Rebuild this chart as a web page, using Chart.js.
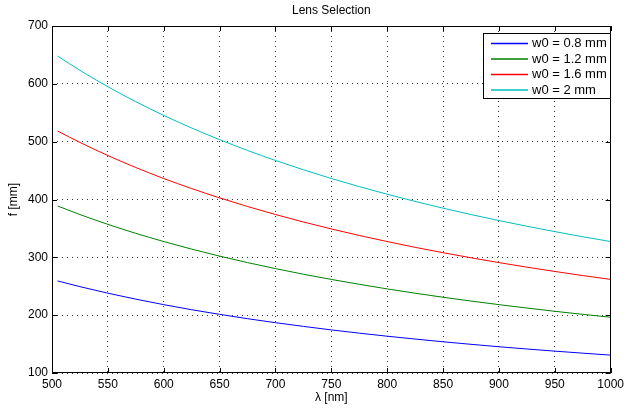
<!DOCTYPE html>
<html><head><meta charset="utf-8">
<script src="https://cdn.jsdelivr.net/npm/chart.js@4.4.1/dist/chart.umd.min.js"></script>
<style>html,body{margin:0;padding:0;background:#fff}#wrap{width:628px;height:408px}</style>
</head><body><div id="wrap"><canvas id="c" width="628" height="408"></canvas></div>
<script>
const lambda = [505,525,550,575,600,625,650,675,700,725,750,775,800,825,850,875,900,925,950,975,1000];
const w08 = [259.2,249.3,238.0,227.7,218.2,209.4,201.4,193.9,187.0,180.6,174.5,168.9,163.6,158.7,154.0,149.6,145.4,141.5,137.8,134.3,130.9];
const w12 = [388.8,374.0,357.0,341.5,327.3,314.2,302.1,290.9,280.5,270.8,261.8,253.4,245.4,238.0,231.0,224.4,218.2,212.3,206.7,201.4,196.4];
const w16 = [518.4,498.7,476.0,455.3,436.3,418.9,402.8,387.9,374.0,361.1,349.1,337.8,327.3,317.3,308.0,299.2,290.9,283.0,275.6,268.5,261.8];
const w20 = [648.0,623.3,595.0,569.1,545.4,523.6,503.5,484.8,467.5,451.4,436.3,422.3,409.1,396.7,385.0,374.0,363.6,353.8,344.5,335.6,327.3];
const seriesLabels = ['w0 = 0.8 mm','w0 = 1.2 mm','w0 = 1.6 mm','w0 = 2 mm'];
const xTicks = [500,550,600,650,700,750,800,850,900,950,1000];
const yTicks = [100,200,300,400,500,600,700];
const titleText = 'Lens Selection';
const xTitle = 'λ [nm]';
const yTitle = 'f [mm]';

const colors = ['#0000ff','#008000','#ff0000','#00bfbf'];
const FONT = '"Liberation Sans", Arial, Helvetica, sans-serif';
const toPts = arr => arr.map((v,i)=>({x:lambda[i], y:v}));

const framePlugin = {
  id:'frame',
  afterDraw(chart){
    const ctx = chart.ctx, a = chart.chartArea;
    const xs = chart.scales.x, ys = chart.scales.y;
    ctx.save();
    ctx.setLineDash([]);
    ctx.strokeStyle = '#000'; ctx.lineWidth = 1;
    ctx.strokeRect(Math.round(a.left)+0.5, Math.round(a.top)+0.5, Math.round(a.right-a.left)-1, Math.round(a.bottom-a.top)-1);
    const L = 5;
    ctx.beginPath();
    xTicks.forEach(t=>{
      const px = Math.round(xs.getPixelForValue(t))+0.5;
      ctx.moveTo(px, a.bottom); ctx.lineTo(px, a.bottom-L);
      ctx.moveTo(px, a.top); ctx.lineTo(px, a.top+L);
    });
    yTicks.forEach(t=>{
      const py = Math.round(ys.getPixelForValue(t))+0.5;
      ctx.moveTo(a.left, py); ctx.lineTo(a.left+L, py);
      ctx.moveTo(a.right, py); ctx.lineTo(a.right-L, py);
    });
    ctx.stroke();
    // title
    ctx.fillStyle = '#000';
    ctx.font = '12px ' + FONT;
    ctx.textAlign = 'center'; ctx.textBaseline = 'middle';
    ctx.fillText(titleText, (a.left+a.right)/2, 11);
    // legend
    const bx = 483.5, by = 33.5, bw = 127, bh = 65;
    ctx.fillStyle = '#fff';
    ctx.fillRect(bx, by, bw, bh);
    ctx.strokeStyle = '#000';
    ctx.strokeRect(bx, by, bw, bh);
    const rows = [43.5, 59, 74.5, 90];
    seriesLabels.forEach((lab,i)=>{
      ctx.setLineDash([]);
      ctx.strokeStyle = colors[i]; ctx.lineWidth = 1.5;
      ctx.beginPath();
      ctx.moveTo(491, rows[i]); ctx.lineTo(528, rows[i]);
      ctx.stroke();
      ctx.fillStyle = '#000';
      ctx.textAlign = 'left'; ctx.textBaseline = 'middle';
      ctx.font = '13px ' + FONT;
      ctx.fillText(lab, 532, rows[i]);
    });
    ctx.restore();
  }
};

new Chart(document.getElementById('c'), {
  type:'line',
  data:{
    datasets:[
      {label:seriesLabels[0], data:toPts(w08), borderColor:colors[0]},
      {label:seriesLabels[1], data:toPts(w12), borderColor:colors[1]},
      {label:seriesLabels[2], data:toPts(w16), borderColor:colors[2]},
      {label:seriesLabels[3], data:toPts(w20), borderColor:colors[3]}
    ].map(d=>Object.assign(d,{borderWidth:1, pointRadius:0, fill:false, cubicInterpolationMode:'monotone'}))
  },
  options:{
    responsive:false, animation:false,
    layout:{padding:{left:0,right:12,top:26,bottom:0}},
    plugins:{legend:{display:false}, title:{display:false}, tooltip:{enabled:false}},
    scales:{
      x:{type:'linear', min:500, max:1000,
        afterFit(s){ s.height = 35; },
        afterBuildTicks(s){ s.ticks = xTicks.map(v=>({value:v})); },
        grid:{drawTicks:false, color:'#333', lineWidth:1},
        border:{display:false, dash:[1,4]},
        ticks:{padding:4, color:'#000', font:{family:FONT, size:12}, maxRotation:0, autoSkip:false, callback:v=>String(v)},
        title:{display:true, text:xTitle, color:'#000', font:{family:FONT, size:12}, padding:{top:0,bottom:3}}
      },
      y:{type:'linear', min:100, max:700,
        afterFit(s){ s.width = 52; },
        afterBuildTicks(s){ s.ticks = yTicks.map(v=>({value:v})); },
        grid:{drawTicks:false, color:'#333', lineWidth:1},
        border:{display:false, dash:[1,4]},
        ticks:{padding:4, color:'#000', font:{family:FONT, size:12}, autoSkip:false, callback:v=>String(v)},
        title:{display:true, text:yTitle, color:'#000', font:{family:FONT, size:12}, padding:{top:6,bottom:0}}
      }
    }
  },
  plugins:[framePlugin]
});
</script></body></html>
